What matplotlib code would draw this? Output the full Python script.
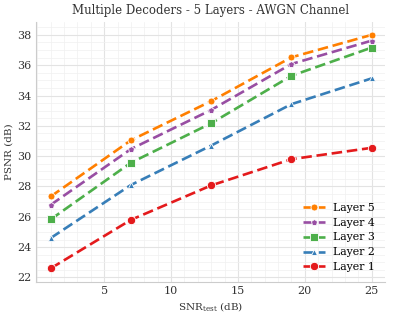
import matplotlib
matplotlib.use("Agg")
import matplotlib.pyplot as plt
from matplotlib.ticker import AutoMinorLocator

snr = [1, 7, 13, 19, 25]
layers = ["Layer 1", "Layer 2", "Layer 3", "Layer 4", "Layer 5"]
psnr = {
    "Layer 1": [22.6, 25.8, 28.07, 29.8, 30.55],
    "Layer 2": [24.6, 28.1, 30.7, 33.43, 35.13],
    "Layer 3": [25.83, 29.57, 32.17, 35.3, 37.16],
    "Layer 4": [26.79, 30.47, 33.05, 36.08, 37.62],
    "Layer 5": [27.34, 31.05, 33.63, 36.52, 38.0],
}
colors = {"Layer 1": "#e41a1c", "Layer 2": "#377eb8", "Layer 3": "#4daf4a",
          "Layer 4": "#984ea3", "Layer 5": "#ff7f00"}
markers = {"Layer 1": "o", "Layer 2": "^", "Layer 3": "s", "Layer 4": "p", "Layer 5": "o"}
msizes = {"Layer 1": 6, "Layer 2": 5, "Layer 3": 6, "Layer 4": 5, "Layer 5": 5}

plt.rcParams["font.family"] = "DejaVu Serif"
plt.rcParams["mathtext.fontset"] = "dejavuserif"

fig = plt.figure(figsize=(3.93, 3.16), dpi=100)
ax = fig.add_axes([36 / 393, 1 - 282 / 316, 349 / 393, 260 / 316])

for name in layers:
    ax.plot(snr, psnr[name], color=colors[name], linestyle=(0, (4, 1.8)), linewidth=1.9,
            marker=markers[name], markersize=msizes[name], markeredgecolor="white",
            markeredgewidth=0.6, label=name, zorder=3)

ax.set_xlim(-0.1, 26.0)
ax.set_ylim(21.7, 38.85)
ax.set_xticks([5, 10, 15, 20, 25])
ax.set_yticks(range(22, 39, 2))
ax.xaxis.set_minor_locator(AutoMinorLocator(5))
ax.yaxis.set_minor_locator(AutoMinorLocator(4))
ax.grid(which="major", color="#e3e3e3", linewidth=0.8)
ax.grid(which="minor", color="#f0f0f0", linewidth=0.5)
ax.set_axisbelow(True)
for s in ["top", "right"]:
    ax.spines[s].set_visible(False)
for s in ["left", "bottom"]:
    ax.spines[s].set_color("#cccccc")
    ax.spines[s].set_linewidth(0.8)
ax.tick_params(which="both", length=0, labelsize=8, colors="#333333", pad=3)

ax.set_title("Multiple Decoders - 5 Layers - AWGN Channel", fontsize=8.5, color="#333333", pad=6)
ax.set_xlabel(r"SNR$_{\rm test}$ (dB)", fontsize=7.5, color="#333333", labelpad=3)
ax.set_ylabel("PSNR (dB)", fontsize=7.5, color="#333333", labelpad=3)

h, l = ax.get_legend_handles_labels()
ax.legend(h[::-1], l[::-1], loc="lower right", fontsize=7.8, frameon=False,
          handlelength=2.0, labelspacing=0.45)

fig.savefig("out.png", dpi=100)
